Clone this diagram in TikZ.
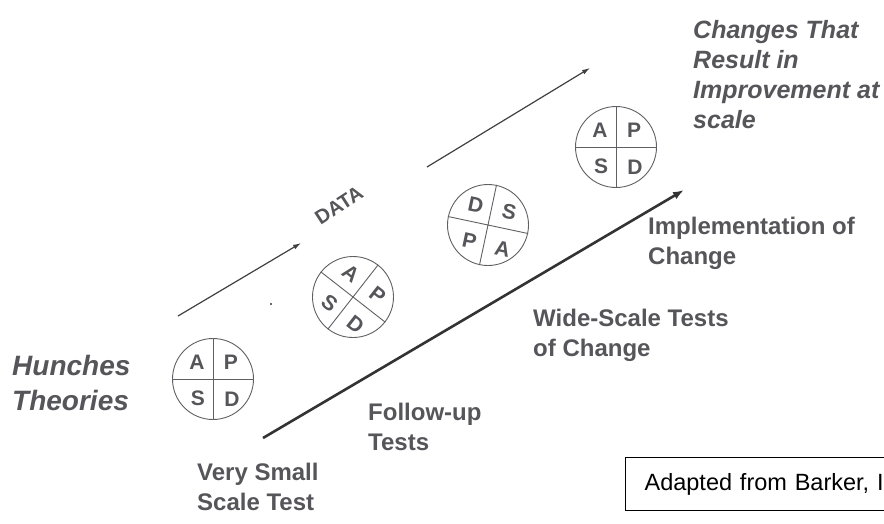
\documentclass[tikz,border=0pt]{standalone}
\usepackage{fontspec}
\setmainfont{Liberation Sans}
\usetikzlibrary{arrows.meta}
\definecolor{textgray}{RGB}{85,85,90}
\definecolor{linegray}{RGB}{95,95,100}
\tikzset{
    cyc/.style = {circle, draw=linegray, line width=0.9pt, minimum size=81pt, inner sep=0pt},
    cross/.style = {draw=linegray, line width=0.9pt},
    letter/.style = {inner sep=0pt, text=textgray, font=\fontsize{21}{21}\selectfont\bfseries},
    lbl/.style = {align=left, anchor=north west, inner sep=0pt, text=textgray, font=\fontsize{24}{30}\selectfont\bfseries},
    lbli/.style = {lbl, font=\fontsize{25}{30}\selectfont\bfseries\itshape},
    lblh/.style = {lbl, font=\fontsize{28}{35}\selectfont\bfseries\itshape},
    credit/.style = {draw=black, line width=1.2pt, anchor=north west, inner xsep=19pt, minimum height=53pt, minimum width=300pt, text width=262pt, align=left, font=\fontsize{23.5}{23.5}\selectfont},
    edgeb/.style = {-{Latex[length=11pt,width=8pt]}, line width=2.6pt, draw=black!80},
    edget/.style = {-{Latex[length=8pt,width=5pt]}, line width=1.2pt, draw=black!75},
}

\begin{document}
\begin{tikzpicture}[x=1pt,y=1pt]
\useasboundingbox (0,0) rectangle (884,-523);
\clip (0,0) rectangle (884,-523);
%
% cycles
\begin{scope}[shift={(213,-379)}]
\node[cyc] (c1) at (0,0) {};
\draw[cross] (c1.north) -- (c1.south) (c1.west) -- (c1.east);
\node[letter] at (-16,17) {A};
\node[letter] at (18,17) {P};
\node[letter] at (-15,-19) {S};
\node[letter] at (19,-20) {D};
\end{scope}
\begin{scope}[shift={(353,-297)}, rotate=-38, transform shape]
\node[cyc] (c2) at (0,0) {};
\draw[cross] (c2.north) -- (c2.south) (c2.west) -- (c2.east);
\node[letter] at (-16,17) {A};
\node[letter] at (18,17) {P};
\node[letter] at (-15,-19) {S};
\node[letter] at (19,-20) {D};
\end{scope}
\begin{scope}[shift={(488,-225)}, rotate=-12, transform shape]
\node[cyc] (c3) at (0,0) {};
\draw[cross] (c3.north) -- (c3.south) (c3.west) -- (c3.east);
\node[letter] at (-16,17) {D};
\node[letter] at (18,17) {S};
\node[letter] at (-15,-19) {P};
\node[letter] at (19,-20) {A};
\end{scope}
\begin{scope}[shift={(616,-147)}]
\node[cyc] (c4) at (0,0) {};
\draw[cross] (c4.north) -- (c4.south) (c4.west) -- (c4.east);
\node[letter] at (-16,17) {A};
\node[letter] at (18,17) {P};
\node[letter] at (-15,-19) {S};
\node[letter] at (19,-20) {D};
\end{scope}
%
% arrows
\coordinate (b0) at (263,-438);
\coordinate (b1) at (684,-190);
\coordinate (d0) at (178,-316);
\coordinate (d1) at (301,-243);
\coordinate (e0) at (427,-167);
\coordinate (e1) at (590,-68);
\draw[edgeb] (b0) -- (b1);
\draw[edget] (d0) -- (d1);
\draw[edget] (e0) -- (e1);
\fill[black!80] (271,-304) circle (1.2);
%
% labels
\node[text=textgray, font=\fontsize{20}{20}\selectfont\bfseries, rotate=33] (data) at (339,-205) {DATA};
\node[lblh] (hunch) at (12,-355) {Hunches\\Theories};
\node[lbli] (change) at (693,-20) {Changes That\\Result in\\Improvement at\\scale};
\node[lbl] (impl) at (648,-217) {Implementation of\\Change};
\node[lbl] (wide) at (533,-309) {Wide-Scale Tests\\of Change};
\node[lbl] (follow) at (368,-403) {Follow-up\\Tests};
\node[lbl] (small) at (197,-463) {Very Small\\Scale Test};
\node[credit] (src) at (625,-457) {Adapted from Barker, I};
\end{tikzpicture}
\end{document}
